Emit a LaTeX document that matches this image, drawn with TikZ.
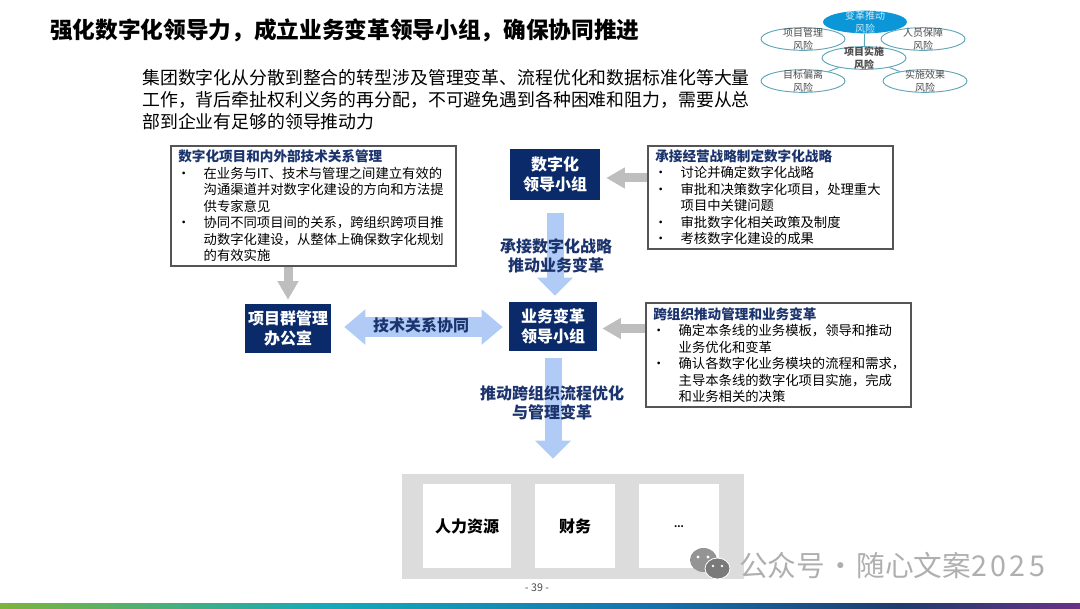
\documentclass[tikz,border=0pt]{standalone}
\usepackage{fontspec}
\setmainfont{Noto Sans CJK SC}
\usetikzlibrary{arrows.meta,shapes.geometric}
\definecolor{navybox}{RGB}{11,42,105}
\definecolor{titlenavy}{RGB}{28,52,110}
\definecolor{paleblue}{RGB}{176,203,246}
\definecolor{palegrey}{RGB}{190,190,190}
\definecolor{bandgrey}{RGB}{220,220,220}
\definecolor{framegrey}{RGB}{85,85,85}
\definecolor{riskblue}{RGB}{10,150,215}
\definecolor{riskline}{RGB}{95,165,185}
\definecolor{marktext}{RGB}{175,175,175}
\definecolor{barA}{RGB}{125,180,60}
\definecolor{barB}{RGB}{20,170,185}
\definecolor{barC}{RGB}{20,115,175}
\definecolor{barD}{RGB}{30,60,110}
\definecolor{barE}{RGB}{105,50,135}
\tikzset{
    leadbox/.style={fill=navybox, text=white, font=\bfseries\fontsize{12}{14.5}\selectfont, align=center, inner sep=0},
    notebox/.style={draw=framegrey, line width=1.5pt, fill=white, anchor=north west, inner xsep=5.5pt, inner ysep=0, text width=#1},
    risk/.style={ellipse, draw=riskline, fill=white, line width=0.7pt, minimum width=63, minimum height=17, inner sep=0},
    risktext/.style={font=\fontsize{7.5}{9.6}\selectfont, text=black!70, align=center},
    flowlabel/.style={font=\bfseries\fontsize{12}{14}\selectfont, text=titlenavy, align=center},
    unitbox/.style={fill=white, minimum width=#1, minimum height=63, inner sep=0, font=\bfseries\fontsize{12}{14}\selectfont},
    paleshaft/.style={line width=12.75pt, draw=paleblue, -{Triangle[length=13.5pt,width=26pt]}},
    greyshaft/.style={line width=6.75pt, draw=palegrey, -{Triangle[length=14pt,width=15pt]}},
}
\newcommand{\notehead}[1]{{\bfseries\fontsize{10.2}{12.4}\selectfont\color{titlenavy}#1\par}}
\newcommand{\noteitem}[1]{{\leftskip=19pt\noindent\hspace*{-20pt}\makebox[20pt][l]{\textbullet}#1\par}}
\begin{document}
\begin{tikzpicture}[x=0.75pt, y=-0.75pt]
    \useasboundingbox (0,0) rectangle (1080,608);
    % page furniture
    \node (title) [anchor=west, inner sep=0, font=\bfseries\fontsize{17}{20}\selectfont] at (50,30) {强化数字化领导力，成立业务变革领导小组，确保协同推进};
    \node (intro) [anchor=west, inner sep=0, align=left, font=\fontsize{13.4}{16.5}\selectfont] at (142,100) {集团数字化从分散到整合的转型涉及管理变革、流程优化和数据标准化等大量\\工作，背后牵扯权利义务的再分配，不可避免遇到各种困难和阻力，需要从总\\部到企业有足够的领导推动力};
    \shade [left color=barA, right color=barB] (0,603) rectangle (330,608);
    \shade [left color=barB, right color=barC] (330,603) rectangle (650,608);
    \shade [left color=barC, right color=barD] (650,603) rectangle (900,608);
    \shade [left color=barD, right color=barE] (900,603) rectangle (1080,608);
    \node (page) [font=\fontsize{8}{9}\selectfont, text=black!70] at (537,588) {- 39 -};

    % risk map top right
    \node (riskB) [risk, label={[risktext]center:项目管理\\风险}] at (803,39) {};
    \node (riskC) [risk, label={[risktext]center:人员保障\\风险}] at (923,39) {};
    \node (riskD) [risk, label={[risktext]center:目标偏离\\风险}] at (803,81) {};
    \node (riskE) [risk, label={[risktext]center:实施效果\\风险}] at (925,81) {};
    \node (riskF) [risk, label={[risktext, font=\bfseries\fontsize{7.5}{9.6}\selectfont]center:项目实施\\风险}] at (864,58) {};
    \node (riskA) [risk, draw=none, fill=riskblue, label={[risktext, text=white!80!riskblue]center:变革推动\\风险}] at (865,22) {};
    \draw [riskline, line width=0.7pt] (riskA) -- (riskF) (riskF) -- (riskD) (riskF) -- (riskE);

    % lead boxes
    \node (digital) [leadbox, minimum width=67.5, minimum height=38.25] at (555,174.5) {数字化\\领导小组};
    \node (change) [leadbox, minimum width=66, minimum height=36.75] at (553,326.5) {业务变革\\领导小组};
    \node (pmo) [leadbox, minimum width=64.5, minimum height=36.75] at (288,328.5) {项目群管理\\办公室};

    % notes
    \node (noteA) [notebox=202.5, minimum height=90] at (170,145) {\fontsize{10}{12.4}\selectfont
        \notehead{数字化项目和内外部技术关系管理}
        \noteitem{在业务与IT、技术与管理之间建立有效的\\沟通渠道并对数字化建设的方向和方法提\\供专家意见}
        \noteitem{协同不同项目间的关系，跨组织跨项目推\\动数字化建设，从整体上确保数字化规划\\的有效实施}};
    \node (noteB) [notebox=172.5, minimum height=77] at (647,145) {\fontsize{10}{12.4}\selectfont
        \notehead{承接经营战略制定数字化战略}
        \noteitem{讨论并确定数字化战略}
        \noteitem{审批和决策数字化项目，处理重大\\项目中关键问题}
        \noteitem{审批数字化相关政策及制度}
        \noteitem{考核数字化建设的成果}};
    \node (noteC) [notebox=187.5, minimum height=78] at (645,302) {\fontsize{10}{12.4}\selectfont
        \notehead{跨组织推动管理和业务变革}
        \noteitem{确定本条线的业务模板，领导和推动\\业务优化和变革}
        \noteitem{确认各数字化业务模块的流程和需求，\\主导本条线的数字化项目实施，完成\\和业务相关的决策}};

    % business units
    \node (band) [fill=bandgrey, minimum width=256.5, minimum height=78.75, inner sep=0] at (573,526.5) {};
    \node (hr) [unitbox=66] at (467,526) {人力资源};
    \node (finance) [unitbox=60] at (575,526) {财务};
    \node (more) [unitbox=60, font=\bfseries\fontsize{7}{9}\selectfont] at (679,526) {\raisebox{-2pt}{...}};

    % arrows
    \coordinate (digitalIn) at ([yshift=-2.6pt]digital.east);
    \coordinate (changeIn) at ([yshift=-1.5pt]change.east);
    \coordinate (pmoOut) at ([yshift=1.1pt]pmo.east);
    \draw [paleshaft, shorten <=9.75pt, shorten >=4.5pt] (digital.south) -- (digital.south |- change.north);
    \draw [paleshaft, shorten <=5.25pt, shorten >=11.25pt] (change.south) -- (change.south |- band.north);
    \draw [paleshaft, {Triangle[length=15.75pt,width=25.5pt]}-{Triangle[length=15.75pt,width=25.5pt]}, line width=15pt, shorten <=9.75pt, shorten >=4.5pt] (pmoOut) -- (pmoOut -| change.west);
    \draw [greyshaft, shorten >=3pt] (pmo.north |- noteA.south) -- (pmo.north);
    \draw [greyshaft, shorten >=4.5pt] (noteB.west |- digitalIn) -- (digitalIn);
    \draw [greyshaft, shorten >=3.75pt] (noteC.west |- changeIn) -- (changeIn);

    % labels on the arrows
    \node (techText) [flowlabel] at (421,325) {技术关系协同};
    \node (digitalText) [flowlabel] at (556,256) {承接数字化战略\\推动业务变革};
    \node (changeText) [flowlabel] at (552,403) {推动跨组织流程优化\\与管理变革};

    % watermark
    \fill [black!42] (703.5,560) ellipse (13.5 and 12);
    \fill [black!52, draw=white, line width=0.6pt] (717.5,568.5) ellipse (12.5 and 10.5);
    \fill [white] (698,557) circle (1.6) (708,557) circle (1.6) (713,566) circle (1.4) (722,566) circle (1.4);
    \node (mark) [anchor=west, inner sep=0, font=\fontsize{21.5}{24}\selectfont, text=marktext] at (739,565) {公众号\hspace{1pt}·\hspace{1pt}随心文案{\addfontfeature{LetterSpace=12}2025}};
\end{tikzpicture}
\end{document}
